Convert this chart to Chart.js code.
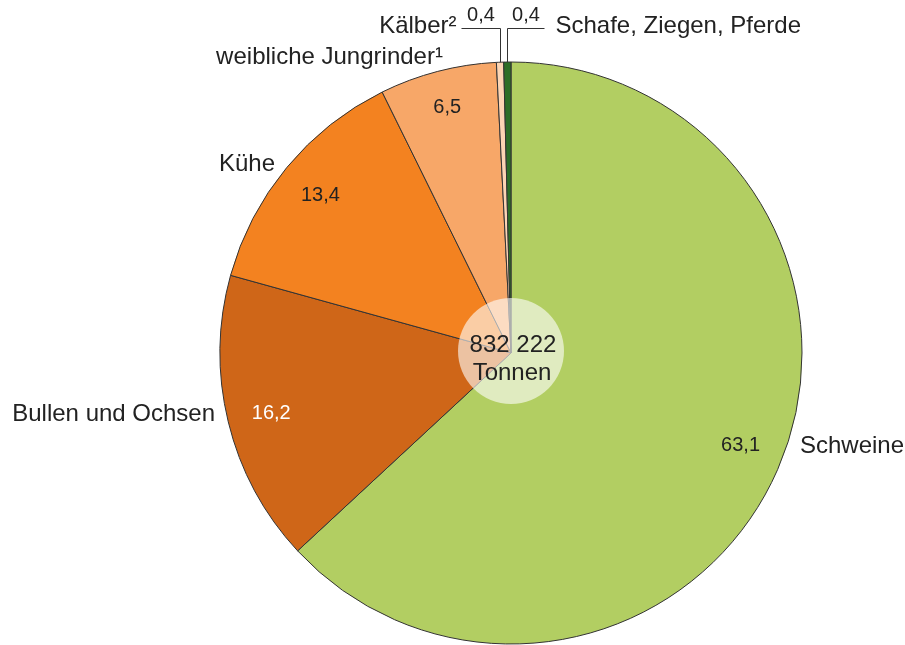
<!DOCTYPE html>
<html>
<head>
<meta charset="utf-8">
<script src="https://cdn.jsdelivr.net/npm/chart.js@4/dist/chart.umd.min.js"></script>
<style>
  html, body { margin: 0; padding: 0; background: #ffffff; }
  #wrap { width: 905px; height: 645px; }
</style>
</head>
<body>
<div id="wrap"><canvas id="c" width="905" height="645"></canvas></div>
<script>
// ---- data ----
const categories = ["Schweine", "Bullen und Ochsen", "Kühe", "weibliche Jungrinder¹", "Kälber²", "Schafe, Ziegen, Pferde"];
const shares = [63.1, 16.2, 13.4, 6.5, 0.4, 0.4];
const totalText = ["832 222", "Tonnen"];

// ---- styles ----
const sliceColors = ["#b2ce62", "#cf6618", "#f38220", "#f7a768", "#fcd5b4", "#2d6e27"];
const valueColors = ["#222222", "#ffffff", "#222222", "#222222", "#222222", "#222222"];
const FONT = '"Liberation Sans", Arial, Helvetica, sans-serif';

// label layout (relative to pie centre, in units of the radius)
const labelLayout = [
  { type: "side", dx: 0.993, dy: 0.320, align: "left", vr: 0.85, va: -0.03 },
  { type: "side", dx: -1.017, dy: 0.210, align: "right", vr: 0.85, va: -0.01 },
  { type: "side", dx: -0.811, dy: -0.649, align: "right", vr: 0.85, va: 0 },
  { type: "side", dx: -0.234, dy: -1.017, align: "right", vr: 0.87, va: 0 },
  { type: "leader", dir: -1, rise: 0.117, len: 39, gap: 5 },
  { type: "leader", dir: 1, rise: 0.117, len: 37, gap: 11 }
];

function fmt(v) { return v.toFixed(1).replace(".", ","); }

const labelPlugin = {
  id: "pieLabels",
  afterDatasetsDraw(chart) {
    const ctx = chart.ctx;
    const arcs = chart.getDatasetMeta(0).data;
    const cx = arcs[0].x, cy = arcs[0].y, R = arcs[0].outerRadius;
    ctx.save();

    // centre circle
    ctx.beginPath();
    ctx.arc(cx, cy - 2, 53, 0, Math.PI * 2);
    ctx.fillStyle = "rgba(255,255,255,0.6)";
    ctx.fill();
    ctx.fillStyle = "#222222";
    ctx.font = "24px " + FONT;
    ctx.textAlign = "center";
    ctx.textBaseline = "middle";
    ctx.fillText(totalText[0], cx + 2, cy - 8);
    ctx.fillText(totalText[1], cx + 1, cy + 20);

    arcs.forEach((arc, i) => {
      const lay = labelLayout[i];
      if (lay.type === "side") {
        const mid = (arc.startAngle + arc.endAngle) / 2 + lay.va;
        ctx.font = "20px " + FONT;
        ctx.fillStyle = valueColors[i];
        ctx.textAlign = "center";
        ctx.textBaseline = "middle";
        ctx.fillText(fmt(shares[i]), cx + Math.cos(mid) * R * lay.vr, cy + Math.sin(mid) * R * lay.vr);
        ctx.font = "24px " + FONT;
        ctx.fillStyle = "#222222";
        ctx.textAlign = lay.align;
        ctx.fillText(categories[i], cx + lay.dx * R, cy + lay.dy * R);
      } else {
        const mid = (arc.startAngle + arc.endAngle) / 2;
        const ex = cx + Math.cos(mid) * R;
        const ey = cy + Math.sin(mid) * R;
        const ly = cy - R * (1 + lay.rise);
        const x0 = Math.round(ex) + 0.5;
        const x1 = x0 + lay.dir * lay.len;
        ctx.beginPath();
        ctx.moveTo(x0, ey);
        ctx.lineTo(x0, Math.round(ly) + 0.5);
        ctx.lineTo(x1, Math.round(ly) + 0.5);
        ctx.strokeStyle = "#333333";
        ctx.lineWidth = 1;
        ctx.stroke();
        ctx.font = "20px " + FONT;
        ctx.fillStyle = "#222222";
        ctx.textAlign = "center";
        ctx.textBaseline = "middle";
        ctx.fillText(fmt(shares[i]), (x0 + x1) / 2, ly - 12);
        ctx.font = "24px " + FONT;
        ctx.textAlign = lay.dir < 0 ? "right" : "left";
        ctx.fillText(categories[i], x1 + lay.dir * lay.gap, ly - 2);
      }
    });
    ctx.restore();
  }
};

new Chart(document.getElementById("c"), {
  type: "pie",
  data: {
    labels: categories,
    datasets: [{
      data: shares,
      backgroundColor: sliceColors,
      borderColor: "#333333",
      borderWidth: 1
    }]
  },
  options: {
    responsive: false,
    animation: false,
    radius: 291,
    layout: { padding: { left: 117, right: 0, top: 61, bottom: 0 } },
    plugins: { legend: { display: false }, tooltip: { enabled: false } }
  },
  plugins: [labelPlugin]
});
</script>
</body>
</html>
